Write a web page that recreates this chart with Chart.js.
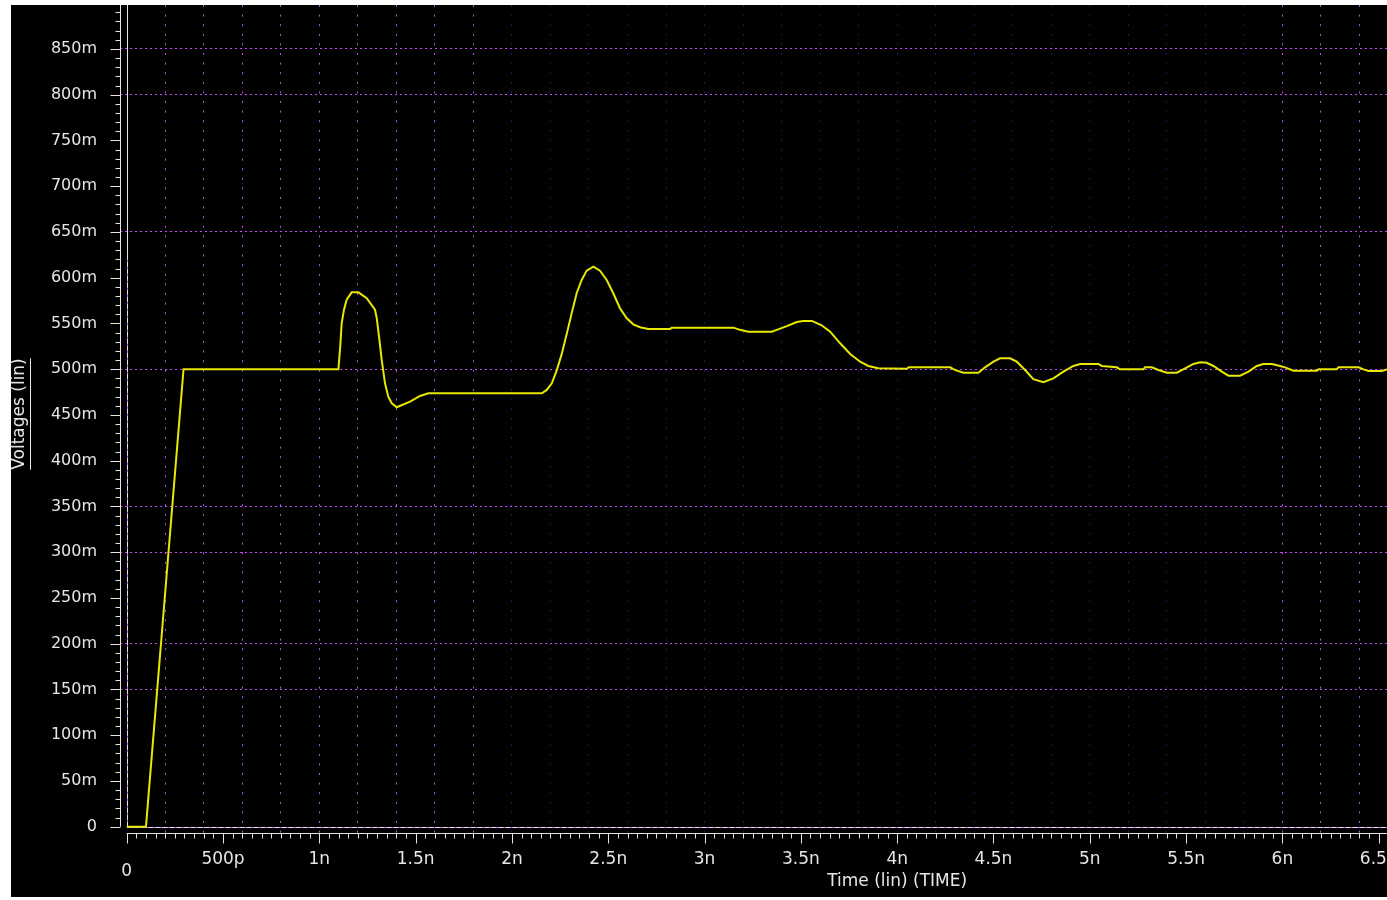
<html>
<head>
<script src="https://cdn.jsdelivr.net/npm/chart.js@4"></script>
<style>
  body { margin: 0; background: #fff; }
  #wrap { position: absolute; left: 11px; top: 5px; width: 1376px; height: 892px; background: #000; }
</style>
</head>
<body>
<div id="wrap"><canvas id="myChart"></canvas></div>
<script>
// transient response, time in ns, voltage in V
var timeNs = [0, 0.10, 0.295, 1.099, 1.108, 1.116, 1.128, 1.142, 1.168, 1.203, 1.246, 1.289, 1.298, 1.312, 1.324,
  1.341, 1.358, 1.376, 1.402, 1.471, 1.523, 1.566, 2.155, 2.181, 2.207, 2.233, 2.259, 2.285, 2.310, 2.336, 2.362,
  2.388, 2.423, 2.457, 2.492, 2.526, 2.561, 2.596, 2.630, 2.665, 2.708, 2.821, 2.830, 3.150, 3.184, 3.227, 3.349,
  3.375, 3.427, 3.479, 3.513, 3.557, 3.608, 3.652, 3.704, 3.756, 3.808, 3.850, 3.902, 4.050, 4.060, 4.275, 4.292,
  4.310, 4.344, 4.422, 4.456, 4.500, 4.534, 4.586, 4.621, 4.664, 4.707, 4.759, 4.811, 4.863, 4.915, 4.950, 5.045,
  5.062, 5.140, 5.157, 5.278, 5.287, 5.322, 5.356, 5.400, 5.452, 5.495, 5.538, 5.573, 5.607, 5.642, 5.685, 5.720,
  5.780, 5.824, 5.867, 5.901, 5.945, 5.988, 6.014, 6.057, 6.179, 6.187, 6.282, 6.291, 6.395, 6.421, 6.447, 6.516, 6.543];
var voltage = [0, 0, 0.500, 0.500, 0.523, 0.550, 0.565, 0.576, 0.584, 0.584, 0.5775, 0.565, 0.556, 0.532, 0.510,
  0.4846, 0.470, 0.4627, 0.4584, 0.4645, 0.4707, 0.4737, 0.4737, 0.4773, 0.4846, 0.499, 0.517, 0.539, 0.561, 0.583, 0.5975,
  0.6077, 0.612, 0.6077, 0.5975, 0.583, 0.5666, 0.5556, 0.549, 0.5458, 0.544, 0.544, 0.5454, 0.5454, 0.543, 0.541, 0.541,
  0.543, 0.547, 0.5516, 0.5527, 0.5527, 0.548, 0.541, 0.5283, 0.5166, 0.5082, 0.5035, 0.501, 0.5005, 0.502, 0.502, 0.500,
  0.4984, 0.4962, 0.4962, 0.502, 0.5082, 0.5119, 0.5119, 0.5082, 0.4991, 0.489, 0.4857, 0.490, 0.4973, 0.5035, 0.5057, 0.5057,
  0.5035, 0.502, 0.4998, 0.4998, 0.502, 0.502, 0.4991, 0.4962, 0.4962, 0.501, 0.5057, 0.5075, 0.507, 0.5035, 0.4973, 0.4929,
  0.4929, 0.4973, 0.5035, 0.5057, 0.5057, 0.5035, 0.502, 0.4984, 0.4984, 0.4998, 0.4998, 0.502, 0.502, 0.4998, 0.498, 0.498, 0.4998];

var xTickValues = [0, 0.5, 1, 1.5, 2, 2.5, 3, 3.5, 4, 4.5, 5, 5.5, 6, 6.5];
var xTickLabels = ['0', '500p', '1n', '1.5n', '2n', '2.5n', '3n', '3.5n', '4n', '4.5n', '5n', '5.5n', '6n', '6.5n'];
var yTickValues = [0, 0.05, 0.1, 0.15, 0.2, 0.25, 0.3, 0.35, 0.4, 0.45, 0.5, 0.55, 0.6, 0.65, 0.7, 0.75, 0.8, 0.85];
var yTickLabels = ['0', '50m', '100m', '150m', '200m', '250m', '300m', '350m', '400m', '450m', '500m', '550m',
  '600m', '650m', '700m', '750m', '800m', '850m'];
var yGridValues = [0.15, 0.2, 0.3, 0.35, 0.5, 0.65, 0.8, 0.85];

var MAGENTA = '#c24cf2';
var DARKBLUE = '#17177a';
var FG = '#e6e6e6';

var points = timeNs.map(function (t, i) { return { x: t, y: voltage[i] }; });

function near(a, b) { return Math.abs(a - b) < 1e-6; }

var axesPlugin = {
  id: 'axesPlugin',
  beforeDatasetsDraw: function (chart) {
    var ctx = chart.ctx, xs = chart.scales.x, ys = chart.scales.y, area = chart.chartArea;
    var y0 = Math.round(ys.getPixelForValue(0)) + 0.5;
    var x0 = Math.round(xs.getPixelForValue(0)) + 0.5;
    ctx.save();
    ctx.lineWidth = 1;
    // zero voltage line
    ctx.strokeStyle = MAGENTA;
    ctx.beginPath(); ctx.moveTo(x0, y0); ctx.lineTo(area.right, y0); ctx.stroke();
    ctx.strokeStyle = FG;
    ctx.setLineDash([5, 2]);
    ctx.beginPath(); ctx.moveTo(x0, y0); ctx.lineTo(area.right, y0); ctx.stroke();
    // zero time line
    var ySplit = ys.getPixelForValue(0.625);
    ctx.setLineDash([]);
    ctx.strokeStyle = MAGENTA;
    ctx.beginPath(); ctx.moveTo(x0, ySplit); ctx.lineTo(x0, y0); ctx.stroke();
    ctx.strokeStyle = FG;
    ctx.beginPath(); ctx.moveTo(x0, area.top); ctx.lineTo(x0, ySplit); ctx.stroke();
    ctx.setLineDash([5, 2]);
    ctx.beginPath(); ctx.moveTo(x0, ySplit); ctx.lineTo(x0, y0); ctx.stroke();
    ctx.restore();
  },
  afterDraw: function (chart) {
    var ctx = chart.ctx, xs = chart.scales.x, ys = chart.scales.y, area = chart.chartArea;
    ctx.save();
    ctx.strokeStyle = FG;
    ctx.fillStyle = FG;
    ctx.lineWidth = 1;
    var bx = area.left + 0.5, by = area.bottom + 0.5;
    var y0 = ys.getPixelForValue(0), x0 = xs.getPixelForValue(0);
    ctx.beginPath();
    ctx.moveTo(bx, area.top); ctx.lineTo(bx, y0);
    ctx.moveTo(x0, by); ctx.lineTo(area.right, by);
    // x ticks every 50p, major every 500p
    for (var i = 0; i <= 131; i++) {
      var px = Math.round(xs.getPixelForValue(i * 0.05)) + 0.5;
      if (px > area.right) break;
      ctx.moveTo(px, by); ctx.lineTo(px, by + (i % 10 === 0 ? 10 : 5));
    }
    // y ticks every 10m, major every 50m
    for (var j = 0; j <= 90; j++) {
      var py = Math.round(ys.getPixelForValue(j * 0.01)) + 0.5;
      if (py < area.top) break;
      ctx.moveTo(bx, py); ctx.lineTo(bx - (j % 5 === 0 ? 10 : 5), py);
    }
    ctx.stroke();
    // axis titles
    ctx.font = '17px "DejaVu Sans"';
    ctx.textAlign = 'center';
    ctx.textBaseline = 'middle';
    ctx.fillText('Time (lin) (TIME)', xs.getPixelForValue(4), xs.bottom - 15);
    var title = 'Voltages (lin)';
    var w = ctx.measureText(title).width;
    var cy = (area.top + area.bottom) / 2 - 5;
    ctx.save();
    ctx.translate(9, cy);
    ctx.rotate(-Math.PI / 2);
    ctx.fillText(title, 0, 0);
    ctx.restore();
    ctx.beginPath();
    ctx.moveTo(19.5, cy - w / 2); ctx.lineTo(19.5, cy + w / 2);
    ctx.stroke();
    ctx.restore();
  }
};

var ctx = document.getElementById('myChart').getContext('2d');
var chart = new Chart(ctx, {
  type: 'line',
  data: {
    datasets: [{
      label: 'v',
      data: points,
      borderColor: '#e8e800',
      borderWidth: 2,
      pointRadius: 0,
      tension: 0,
      fill: false
    }]
  },
  options: {
    responsive: true,
    maintainAspectRatio: false,
    animation: false,
    layout: { padding: 0 },
    plugins: { legend: { display: false }, tooltip: { enabled: false } },
    scales: {
      x: {
        type: 'linear',
        min: -0.0348,
        max: 6.543,
        afterBuildTicks: function (scale) {
          var t = [];
          for (var i = 0; i <= 65; i++) t.push({ value: i / 10 });
          scale.ticks = t;
        },
        afterFit: function (scale) {
          scale.height = 64;
          scale.paddingLeft = 0;
          scale.paddingRight = 0;
        },
        border: { display: false, dash: [2, 7.6] },
        grid: {
          drawTicks: false,
          color: function (c) {
            var v = c.tick ? c.tick.value : 0;
            var k = Math.round(v * 10);
            if (k % 2 !== 0 || k === 0) return 'rgba(0,0,0,0)';
            return (v > 1.9 && v < 5.9) ? DARKBLUE : MAGENTA;
          }
        },
        ticks: {
          autoSkip: false,
          maxRotation: 0,
          padding: 21,
          color: FG,
          font: { family: 'DejaVu Sans', size: 17, lineHeight: 0.7 },
          callback: function (value) {
            for (var i = 0; i < xTickValues.length; i++) {
              if (near(value, xTickValues[i])) return i === 0 ? ['', xTickLabels[i]] : xTickLabels[i];
            }
            return '';
          }
        }
      },
      y: {
        min: -0.0069,
        max: 0.898,
        afterBuildTicks: function (scale) {
          scale.ticks = yTickValues.map(function (v) { return { value: v }; });
        },
        afterFit: function (scale) {
          scale.width = 109;
          scale.paddingTop = 0;
          scale.paddingBottom = 0;
        },
        border: { display: false, dash: [2, 3] },
        grid: {
          drawTicks: false,
          color: function (c) {
            var v = c.tick ? c.tick.value : 0;
            for (var i = 0; i < yGridValues.length; i++) {
              if (near(v, yGridValues[i])) return MAGENTA;
            }
            return 'rgba(0,0,0,0)';
          }
        },
        ticks: {
          autoSkip: false,
          padding: 23,
          color: FG,
          font: { family: 'DejaVu Sans', size: 16 },
          callback: function (value) {
            for (var i = 0; i < yTickValues.length; i++) {
              if (near(value, yTickValues[i])) return yTickLabels[i];
            }
            return '';
          }
        }
      }
    }
  },
  plugins: [axesPlugin]
});
</script>
</body>
</html>
